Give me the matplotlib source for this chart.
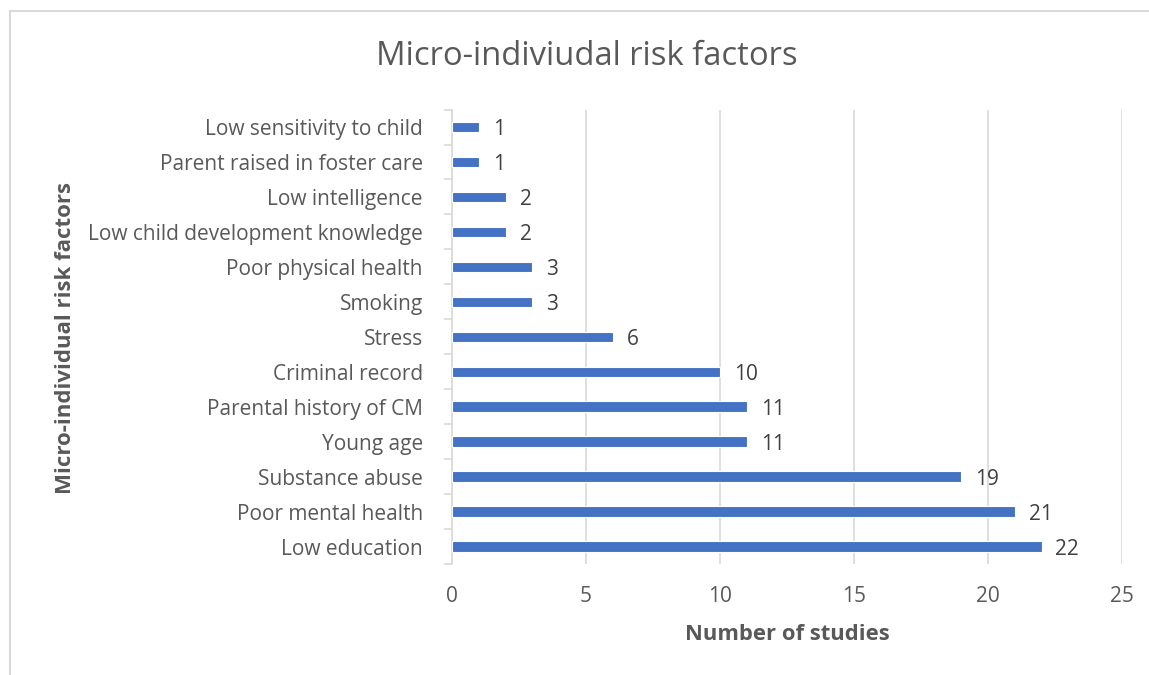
import numpy as np
import matplotlib.pyplot as plt
from matplotlib.patches import Rectangle

plt.rcParams['font.family'] = ['Open Sans', 'DejaVu Sans']

factors = ['Low education', 'Poor mental health', 'Substance abuse', 'Young age',
           'Parental history of CM', 'Criminal record', 'Stress', 'Smoking',
           'Poor physical health', 'Low child development knowledge',
           'Low intelligence', 'Parent raised in foster care',
           'Low sensitivity to child']
n_studies = [22, 21, 19, 11, 11, 10, 6, 3, 3, 2, 2, 1, 1]

bar_color = '#4472C4'
text_color = '#595959'
grid_color = '#D9D9D9'

fig = plt.figure(figsize=(11.49, 6.75), dpi=100)
# chart frame: only its top and left edges fall inside the image
fig.patches.append(Rectangle((0.009, -0.1), 1.2, 1.0837, transform=fig.transFigure,
                             fill=False, edgecolor=grid_color, linewidth=1.5))

ax = fig.add_axes([0.3934, 0.1644, 0.5831, 0.6733])
y = np.arange(len(factors))
ax.barh(y, n_studies, height=0.3, color=bar_color, edgecolor='white',
        linewidth=0.8, zorder=3)

for yi, v in zip(y, n_studies):
    ax.annotate(str(v), (v, yi), xytext=(10, -2), textcoords='offset points',
                ha='left', va='center', fontsize=15, color='#404040')

ax.set_xlim(0, 25)
ax.set_ylim(-0.5, len(factors) - 0.5)
ax.set_xticks(np.arange(0, 26, 5))
ax.set_yticks(y)
ax.set_yticklabels(factors)
ax.set_yticks(np.arange(-0.5, len(factors), 1), minor=True)

ax.grid(axis='x', color=grid_color, linewidth=1.2, zorder=0)
for s in ['top', 'right', 'bottom']:
    ax.spines[s].set_visible(False)
ax.spines['left'].set_color(grid_color)
ax.spines['left'].set_linewidth(1.2)

ax.tick_params(axis='x', length=0, pad=16, labelsize=15, labelcolor=text_color)
ax.tick_params(axis='y', which='major', length=0, pad=21, labelsize=15,
               labelcolor=text_color)
ax.tick_params(axis='y', which='minor', length=6, width=1.2, color=grid_color)

ax.set_xlabel('Number of studies', fontsize=15.8, fontweight='bold',
              color=text_color, labelpad=12)
fig.text(0.057, 0.5, 'Micro-individual risk factors', rotation=90, fontsize=16,
         fontweight='bold', color=text_color, ha='center', va='center')
fig.text(0.511, 0.917, 'Micro-indiviudal risk factors', fontsize=23.6,
         color=text_color, ha='center', va='center')

fig.savefig('out.png', dpi=100)
